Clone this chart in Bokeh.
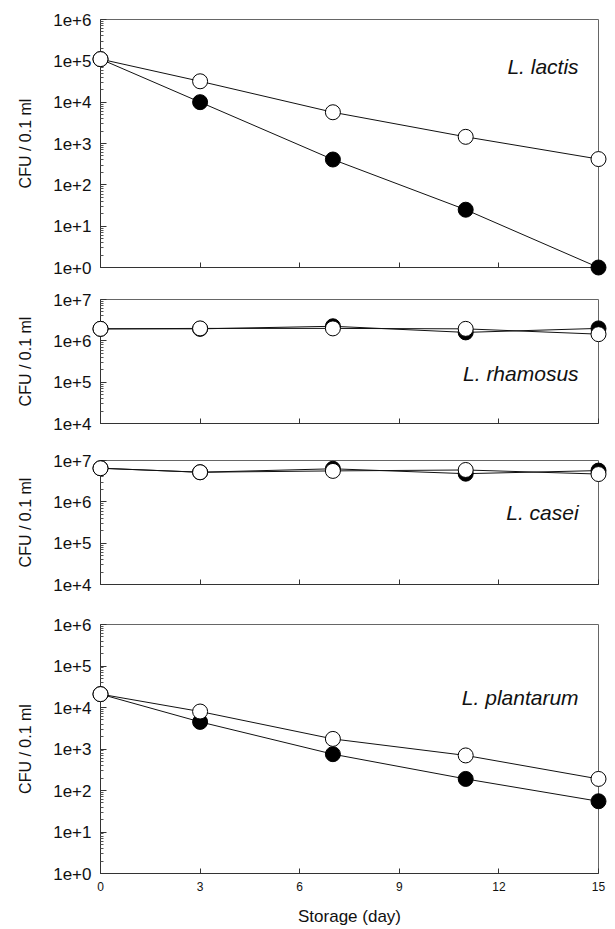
from bokeh.plotting import figure
from bokeh.models import Range1d, FixedTicker, CustomJSTickFormatter, Label
from bokeh.layouts import column
from bokeh.embed import file_html
from bokeh.resources import INLINE

# ---------------- data ----------------
days = [0, 3, 7, 11, 15]
x_ticks = [0, 3, 6, 9, 12, 15]

species = ["L. lactis", "L. rhamosus", "L. casei", "L. plantarum"]

lactis_filled = [1.1e5, 1.0e4, 4.1e2, 25, 1.0]
lactis_open = [1.1e5, 3.2e4, 5.7e3, 1.45e3, 4.2e2]

rhamosus_filled = [1.95e6, 1.95e6, 2.25e6, 1.6e6, 2.0e6]
rhamosus_open = [1.95e6, 2.0e6, 2.0e6, 1.95e6, 1.45e6]

casei_filled = [6.5e6, 5.2e6, 6.3e6, 4.8e6, 5.7e6]
casei_open = [6.5e6, 5.2e6, 5.6e6, 5.9e6, 4.7e6]

plantarum_filled = [2.1e4, 4.5e3, 7.5e2, 1.9e2, 55]
plantarum_open = [2.1e4, 8.0e3, 1.75e3, 7.0e2, 1.9e2]

# decade limits of each panel's y axis
decades = [(0, 6), (4, 7), (4, 7), (0, 6)]
label_y = [7.1e4, 1.6e5, 5.5e5, 1.75e4]

y_title = "CFU / 0.1 ml"
x_title = "Storage (day)"

# ---------------- layout ----------------
FONT = "Liberation Sans"
frame_h = [248, 124, 124, 249]
border_top = [19, 16, 19, 20]
border_bottom = [16, 18, 20, 56]

series = [
    (lactis_filled, lactis_open),
    (rhamosus_filled, rhamosus_open),
    (casei_filled, casei_open),
    (plantarum_filled, plantarum_open),
]

figs = []
for i in range(4):
    lo, hi = decades[i]
    p = figure(
        x_range=Range1d(days[0], days[-1]),
        y_range=Range1d(10 ** lo, 10 ** hi),
        y_axis_type="log",
        frame_width=498, frame_height=frame_h[i],
        min_border_left=100, min_border_right=17,
        min_border_top=border_top[i], min_border_bottom=border_bottom[i],
        output_backend="svg", toolbar_location=None,
    )
    p.grid.visible = False
    p.outline_line_color = "#666666"
    p.outline_line_width = 1
    p.background_fill_color = "white"
    p.border_fill_color = "white"

    majors = [10 ** k for k in range(lo, hi + 1)]
    minors = [m * 10 ** k for k in range(lo, hi) for m in range(2, 10)]
    ya = p.yaxis[0]
    ya.ticker = FixedTicker(ticks=majors, minor_ticks=minors)
    ya.formatter = CustomJSTickFormatter(code="return '1e+' + Math.round(Math.log10(tick));")
    ya.major_tick_in = 6
    ya.major_tick_out = 0
    ya.minor_tick_in = 3
    ya.minor_tick_out = 0
    ya.axis_line_color = "#333333"
    ya.major_tick_line_color = "#333333"
    ya.minor_tick_line_color = "#555555"
    ya.major_label_text_font = FONT
    ya.major_label_text_font_size = "17px"
    ya.major_label_text_color = "#111111"
    ya.major_label_standoff = 9
    ya.axis_label = y_title
    ya.axis_label_text_font = FONT
    ya.axis_label_text_font_style = "normal"
    ya.axis_label_text_font_size = "16px"
    ya.axis_label_text_color = "#111111"
    ya.axis_label_standoff = 16

    xa = p.xaxis[0]
    xa.ticker = FixedTicker(ticks=x_ticks)
    xa.major_tick_in = 5
    xa.major_tick_out = 0
    xa.minor_tick_line_color = None
    xa.axis_line_color = "#333333"
    xa.major_tick_line_color = "#333333"
    if i == 3:
        xa.major_label_text_font = FONT
        xa.major_label_text_font_size = "12px"
        xa.major_label_text_color = "#111111"
        xa.major_label_standoff = 8
        xa.axis_label = x_title
        xa.axis_label_text_font = FONT
        xa.axis_label_text_font_style = "normal"
        xa.axis_label_text_font_size = "17px"
        xa.axis_label_text_color = "#111111"
        xa.axis_label_standoff = 13
    else:
        xa.formatter = CustomJSTickFormatter(code="return '';")
        xa.major_label_text_font_size = "1px"
        xa.major_label_standoff = 0

    filled, opn = series[i]
    # drawn at annotation level so markers on the frame edge are not clipped
    p.line(days, filled, line_color="#111111", line_width=1, level="annotation")
    p.line(days, opn, line_color="#111111", line_width=1, level="annotation")
    p.scatter(days, filled, size=15, fill_color="black", line_color="black",
              line_width=1, level="annotation")
    p.scatter(days, opn, size=15, fill_color="white", line_color="black",
              line_width=1, level="annotation")

    lab = Label(x=days[-1] - 0.6, y=label_y[i], text=species[i],
                text_align="right", text_baseline="middle",
                text_font=FONT, text_font_style="italic", text_font_size="21px",
                text_color="#111111")
    p.add_layout(lab)
    figs.append(p)

layout = column(*figs, spacing=0)
open("out.html", "w").write(file_html(layout, INLINE))
